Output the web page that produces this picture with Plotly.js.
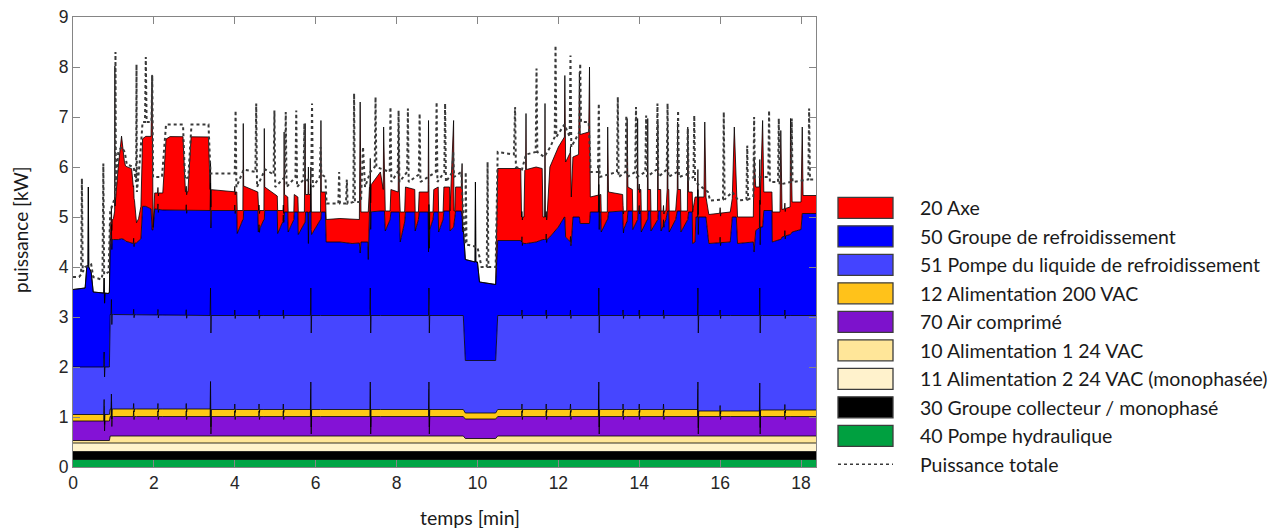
<!DOCTYPE html>
<html><head><meta charset="utf-8">
<script src="https://cdn.plot.ly/plotly-3.0.1.min.js"></script>
<style>html,body{margin:0;padding:0;background:#fff}#chart{width:1284px;height:528px}</style>
</head><body><div id="chart"></div>
<script>
// ---------------- DATA (kW, time in min) ----------------
// lower, nearly constant layers (each with its own time points)
const tHydraulique = [0, 18.37];
const pompeHydraulique = [0.15, 0.15];              // 40
const tCollecteur = [0, 18.37];
const groupeCollecteur = [0.16, 0.16];              // 30
const tAlim2 = [0, 18.37];
const alim2_24VAC = [0.17, 0.17];                   // 11
const tAlim1 = [0, 0.9, 0.92, 9.65, 9.7, 10.45, 10.5, 18.37];
const alim1_24VAC = [0.05, 0.05, 0.14, 0.14, 0.09, 0.09, 0.14, 0.14]; // 10
const tAir = [0, 0.76,0.77,0.78,0.79, 0.94,0.95,0.96,0.97, 1.49,1.5,1.51,1.52, 2.09,2.1,2.11,2.12,
  2.79,2.8,2.81,2.82, 3.39,3.4,3.41,3.42, 3.99,4.0,4.01,4.02, 4.59,4.6,4.61,4.62, 5.19,5.2,5.21,5.22,
  5.87,5.88,5.89,5.9, 7.34,7.35,7.36,7.37, 8.79,8.8,8.81,8.82, 11.09,11.1,11.11,11.12,
  11.69,11.7,11.71,11.72, 12.29,12.3,12.31,12.32, 12.99,13.0,13.01,13.02, 13.59,13.6,13.61,13.62,
  13.99,14.0,14.01,14.02, 14.59,14.6,14.61,14.62, 15.44,15.45,15.46,15.47, 15.99,16.0,16.01,16.02,
  16.97,16.98,16.99,17.0, 17.59,17.6,17.61,17.62, 18.37];
const airComprime = [0.39, 0.39,0.69,0.19,0.39, 0.39,0.69,0.19,0.39, 0.39,0.5,0.33,0.39, 0.39,0.5,0.33,0.39,
  0.39,0.5,0.33,0.39, 0.39,0.94,0.04,0.39, 0.39,0.5,0.33,0.39, 0.39,0.5,0.33,0.39, 0.39,0.5,0.33,0.39,
  0.39,0.94,0.04,0.39, 0.39,0.94,0.04,0.39, 0.39,0.94,0.04,0.39, 0.39,0.5,0.33,0.39,
  0.39,0.5,0.33,0.39, 0.39,0.5,0.33,0.39, 0.39,0.94,0.04,0.39, 0.39,0.5,0.33,0.39,
  0.39,0.5,0.33,0.39, 0.39,0.5,0.33,0.39, 0.39,0.94,0.04,0.39, 0.39,0.5,0.33,0.39,
  0.39,0.94,0.04,0.39, 0.39,0.5,0.33,0.39, 0.39];   // 70
const tAlim200 = [0, 0.9, 0.92, 3.4, 3.42, 9.65, 9.7, 10.45, 10.5, 15.45, 15.47, 16.97, 16.99, 18.37];
const alim200VAC = [0.13, 0.13, 0.15, 0.15, 0.14, 0.14, 0.12, 0.12, 0.14, 0.14, 0.11, 0.11, 0.13, 0.13]; // 12
const pompeLiquide = [0.95, 0.95, 1.89, 1.87, 1.88, 1.88, 1.05, 1.05, 1.88, 1.88, 1.91, 1.91, 1.89, 1.89]; // 51

// upper, strongly varying layers
const tTop = [
  0,0.3,0.34,0.37,0.38,0.39,0.45,0.5,0.88,0.9,
  0.92,1.0,1.03,1.035,1.04,1.12,1.2,1.27,1.3,1.45,1.5,1.57,1.62,1.68,1.72,1.8,1.93,1.955,1.98,2.02,2.22,2.3,2.4,2.72,2.78,2.84,2.92,3.35,3.38,
  4.05,4.06,4.2,4.21,4.22,
  4.57,4.58,4.72,4.73,4.74,
  5.05,5.06,5.21,5.22,5.23,
  5.31,5.32,5.46,5.47,
  5.56,5.57,5.72,5.74,5.75,
  5.81,5.82,5.83,
  5.89,5.9,6.12,6.13,6.14,
  6.24,6.26,6.6,6.9,7.08,7.1,7.12,
  7.29,7.3,7.33,
  7.6,7.67,7.68,7.7,
  7.72,7.84,7.86,
  8.04,8.05,8.07,
  8.09,8.2,8.22,
  8.45,8.46,8.54,8.56,
  8.78,8.79,8.8,8.9,8.92,
  9.03,9.04,9.15,9.17,
  9.31,9.32,9.41,9.42,9.44,9.46,
  9.6,9.62,9.64,
  9.7,9.94,9.95,9.96,10.0,10.05,10.45,
  10.5,11.07,11.09,11.15,11.17,11.19,11.2,11.21,11.45,11.6,11.62,11.66,11.67,11.68,11.72,11.79,12.0,12.15,12.16,12.18,12.3,12.32,12.36,12.5,12.52,12.54,12.75,12.77,12.79,13.05,
  13.06,13.21,13.22,13.24,
  13.59,13.6,13.69,13.7,13.72,
  13.83,13.84,13.95,13.96,13.97,
  14.04,14.05,14.2,14.21,14.22,
  14.28,14.29,14.45,14.46,14.47,
  14.53,14.54,14.66,14.69,14.7,14.71,
  14.73,14.74,14.9,14.94,14.95,14.96,
  15.02,15.03,15.19,15.2,15.22,
  15.31,15.32,15.38,15.4,15.6,15.62,15.65,
  15.72,16.25,16.3,16.35,16.4,16.43,16.82,16.84,16.88,17.0,17.05,17.08,
  17.28,17.29,17.48,17.5,17.53,17.73,17.74,17.78,18.0,18.03,18.05,18.37];
const groupeRefroid = [   // 50
  1.55,1.58,2.0,2.05,3.6,2.0,1.9,1.5,1.47,1.5,
  1.5,1.5,1.5,1.5,1.5,1.5,1.52,1.5,1.47,1.44,1.42,1.44,1.47,1.52,2.17,2.17,2.12,1.7,1.7,2.12,2.1,2.1,2.1,2.1,2.1,2.1,2.1,2.1,2.1,
  2.1,1.64,1.92,1.92,2.1,
  2.1,1.67,1.92,1.92,2.1,
  2.1,1.64,1.92,1.92,2.07,
  2.07,1.67,1.92,2.07,
  2.07,1.62,1.87,1.87,2.07,
  2.07,1.44,2.07,
  2.07,1.62,1.92,1.92,2.07,
  2.07,1.47,1.47,1.44,1.45,1.25,1.47,
  1.47,1.12,2.07,
  2.09,2.09,2.09,2.09,
  1.69,1.92,2.07,
  2.07,2.07,2.07,
  1.47,1.87,2.07,
  2.07,1.69,1.92,2.07,
  2.07,1.27,1.67,1.92,2.07,
  2.07,1.67,1.92,2.09,
  2.09,1.69,1.77,1.82,1.92,2.09,
  2.09,1.97,1.67,
  2.02,1.97,3.57,1.97,1.97,1.57,1.52,
  1.5,1.5,1.47,1.44,1.44,1.44,1.44,1.44,1.47,1.52,1.52,1.52,1.52,1.52,1.52,1.57,1.77,1.97,1.97,1.57,1.47,1.44,1.97,1.97,1.97,1.84,1.84,1.84,2.07,2.07,
  1.67,1.92,1.92,2.07,
  2.09,1.69,1.87,1.87,2.09,
  2.09,1.72,1.92,1.92,2.09,
  2.09,1.67,1.92,1.92,2.09,
  2.09,1.69,1.92,1.92,2.09,
  2.09,1.69,1.92,2.09,2.09,2.09,
  2.09,1.67,1.92,2.09,2.09,2.09,
  2.09,1.67,1.92,1.92,2.07,
  2.07,1.44,1.47,1.97,1.97,1.97,1.97,
  1.44,1.47,1.97,1.97,1.97,1.44,1.47,1.27,1.7,1.77,1.77,2.1,
  2.1,1.47,1.52,1.52,1.57,1.62,1.62,1.67,1.72,2.04,2.04,2.04];
const axe = [   // 20
  0,0,0,0,0,0,0,0,0,0,
  0.34,0.42,0.57,3.47,0.67,1.47,2.05,1.57,1.5,1.48,1.05,0.4,0.45,0.65,1.35,1.4,1.45,3.1,0.05,0.32,0.34,1.42,1.47,1.47,0.37,0.37,1.47,1.47,0.42,
  0.37,0.46,0.18,1.92,0.49,
  0.37,0.43,0.18,1.82,0.47,
  0.29,0.46,0.18,1.75,0.35,
  0.3,0.4,0.15,0.35,
  0.3,0.45,0.2,1.97,0.35,
  0.35,1.53,0.35,
  0.35,0.45,0.15,1.98,0.4,
  0.4,0.45,0.47,0.48,0.47,3.02,0.6,
  0.6,0.95,0.5,
  0.78,0.43,1.68,0.38,
  0.4,0.17,0.45,
  0.4,1.7,0.4,
  0.6,0.2,0.5,
  0.45,0.38,0.15,0.4,
  0.4,2.63,0.4,0.15,0.45,
  0.5,0.4,0.15,0.48,
  0.48,0.4,2.13,0.27,0.17,0.48,
  0.48,1.07,0.05,
  0,0,0,0,0,0,0,
  1.44,1.44,0.5,0.53,1.46,1.48,2.6,1.48,1.5,1.42,0.45,0.45,2.72,0.45,0.45,1.4,1.6,1.6,2.83,1.5,1.8,0.93,1.2,1.25,2.9,1.78,1.83,3.13,0.3,0.35,
  0.4,0.15,1.85,0.4,
  0.33,0.4,0.22,2.07,0.48,
  0.43,0.37,0.17,2.02,0.43,
  0.43,0.42,0.17,2.02,0.43,
  0.43,0.4,0.17,1.95,0.43,
  0.43,0.4,0.17,0.43,1.78,0.43,
  0.43,0.42,0.17,0.43,1.78,0.43,
  0.43,0.42,0.17,1.85,0.4,
  0.4,0.63,0.9,0.4,0.4,1.9,0.4,
  0.58,0.6,0.37,1.8,0.37,0.53,0.5,1.9,0.87,0.8,2.13,0.37,
  0.37,0.6,0.55,2.18,0.55,0.55,2.32,0.6,0.55,1.73,0.36,0.36];

// measured total power (absolute values)
const tTotal = [0,0.15,0.2,0.22,0.24,0.3,0.45,0.5,0.7,0.73,0.75,0.77,0.88,0.92,1.0,1.04,1.05,1.06,1.12,1.2,1.28,1.33,1.5,1.56,1.57,1.58,1.66,1.72,1.78,1.8,1.82,1.94,1.96,1.98,2.2,2.3,2.72,2.77,2.85,2.93,3.35,3.4,
  4.0,4.02,4.04,4.22,4.51,4.53,4.55,4.75,4.96,4.98,5.0,5.24,5.26,5.28,5.5,5.52,5.54,5.7,5.72,5.74,5.89,5.91,5.93,6.1,6.12,6.14,6.24,6.27,6.56,6.58,6.6,6.75,6.77,6.79,6.93,6.95,6.97,7.12,7.17,7.22,7.35,7.46,7.48,7.5,7.83,7.85,7.87,8.03,8.05,8.07,8.26,8.28,8.3,8.55,8.57,8.59,8.97,8.99,9.01,9.18,9.2,9.22,9.38,9.4,9.42,9.6,9.65,
  9.7,9.71,9.73,10.0,10.1,10.23,10.25,10.27,10.45,
  10.5,10.9,10.93,10.95,11.1,11.2,11.44,11.46,11.48,11.65,11.8,11.91,11.93,11.95,12.15,12.28,12.3,12.32,12.52,12.54,12.56,12.75,12.8,12.98,13.0,13.02,
  13.45,13.47,13.49,13.66,13.68,13.7,13.9,13.92,13.94,14.15,14.17,14.19,14.43,14.45,14.47,14.68,14.7,14.72,14.94,14.96,14.98,15.18,15.2,15.22,15.34,15.36,15.38,
  15.7,15.75,16.07,16.09,16.11,16.3,16.45,16.65,16.67,16.69,16.82,16.84,16.86,17.19,17.21,17.23,17.43,17.45,17.47,17.75,17.77,17.79,18.18,18.2,18.22,18.37];
const puissanceTotale = [3.8,3.8,3.85,5.77,3.9,4.0,4.05,3.8,3.75,3.85,6.07,3.85,3.9,5.1,5.3,5.4,8.3,5.6,6.3,6.4,6.3,6.05,6.0,5.7,8.05,5.5,6.2,6.9,6.9,8.2,6.9,6.9,7.83,5.8,5.8,6.85,6.85,5.75,5.8,6.85,6.85,5.87,
  5.87,7.13,5.6,5.95,5.9,7.27,5.6,5.95,5.85,7.13,5.6,5.8,7.1,5.6,5.8,7.13,5.6,5.75,6.87,5.7,5.8,7.27,5.6,5.8,6.4,5.85,5.8,5.27,5.27,5.9,5.27,5.27,5.75,5.27,5.3,7.47,5.3,5.3,6.4,5.6,5.9,6.0,7.4,6.0,5.9,7.2,5.7,5.9,7.13,5.7,5.9,7.17,5.7,5.85,7.07,5.7,5.9,7.3,5.7,5.9,7.27,5.7,5.9,6.3,5.8,5.9,5.0,
  4.45,5.9,4.45,4.4,4.0,4.0,6.1,4.0,4.0,
  6.3,6.25,7.2,6.0,5.95,6.25,6.3,7.97,6.3,6.2,6.4,6.6,8.43,6.6,6.85,6.6,8.23,6.4,6.7,8.07,6.9,6.9,5.9,5.9,7.27,5.8,
  5.9,7.4,5.8,5.9,7.03,5.8,5.9,7.2,5.8,5.9,7.03,5.8,5.95,7.27,5.8,5.95,7.27,5.8,5.9,7.13,5.8,5.85,6.77,5.75,5.8,7.03,5.7,
  5.5,5.33,5.35,7.1,5.35,5.5,5.33,5.35,6.43,5.35,5.4,7.0,5.8,5.8,7.13,5.7,5.7,6.97,5.65,5.7,6.97,5.7,5.75,7.17,5.75,5.75];

const xTicks = [0, 2, 4, 6, 8, 10, 12, 14, 16, 18];
const yTicks = [0, 1, 2, 3, 4, 5, 6, 7, 8, 9];

// ---------------- LAYOUT / STYLE ----------------
const L = 73, R = 816, T = 17, B = 467;
const px2x = px => (px - L) / (R - L);
const py2y = py => (B - py) / (B - T);

const layers = [   // bottom -> top
  {name:'40 Pompe hydraulique', x:tHydraulique, y:pompeHydraulique, fill:'#00A545', sw:'#00A040'},
  {name:'30 Groupe collecteur / monophasé', x:tCollecteur, y:groupeCollecteur, fill:'#000000', sw:'#000000'},
  {name:'11 Alimentation 2 24 VAC (monophasée)', x:tAlim2, y:alim2_24VAC, fill:'#FFF3CC', sw:'#FFF2CC'},
  {name:'10 Alimentation 1 24 VAC', x:tAlim1, y:alim1_24VAC, fill:'#FFE697', sw:'#FFE699'},
  {name:'70 Air comprimé', x:tAir, y:airComprime, fill:'#8412D6', sw:'#7D12CC'},
  {name:'12 Alimentation 200 VAC', x:tAlim200, y:alim200VAC, fill:'#FFC915', sw:'#FFC21A'},
  {name:'51 Pompe du liquide de refroidissement', x:tAlim200, y:pompeLiquide, fill:'#4646FF', sw:'#4444FF'},
  {name:'50 Groupe de refroidissement', x:tTop, y:groupeRefroid, fill:'#0000FF', sw:'#0000FF'},
  {name:'20 Axe', x:tTop, y:axe, fill:'#FF0000', sw:'#FF0000'}
];

// stacking: evaluate every layer (piecewise linear between its own points) on the union of all time points
const allT = Array.from(new Set(layers.flatMap(l => l.x))).sort((a, b) => a - b);
function valueAt(xs, ys, t) {
  if (t <= xs[0]) return ys[0];
  if (t >= xs[xs.length - 1]) return ys[ys.length - 1];
  let i = 1; while (xs[i] < t) i++;
  if (xs[i] === t) return ys[i];
  const f = (t - xs[i - 1]) / (xs[i] - xs[i - 1]);
  return ys[i - 1] + f * (ys[i] - ys[i - 1]);
}
let cum = allT.map(() => 0);
const traces = layers.map((l, i) => {
  cum = cum.map((c, j) => c + valueAt(l.x, l.y, allT[j]));
  return {type:'scatter', mode:'lines', name:l.name, x:allT, y:cum.slice(),
    fill: i === 0 ? 'tozeroy' : 'tonexty', fillcolor:l.fill,
    line:{color:'#000', width:0.8}, hoverinfo:'skip', showlegend:false};
});
traces.push({type:'scatter', mode:'lines', name:'Puissance totale', x:tTotal, y:puissanceTotale,
  line:{color:'#3a3a3a', width:2, dash:'dot'}, hoverinfo:'skip', showlegend:false});

// custom legend (big swatches)
const FONT = 'Lato, Open Sans, sans-serif';
const shapes = [], annotations = [];
const legendItems = layers.slice().reverse();
const rowY0 = 207.8, rowStep = 28.5;
legendItems.forEach((l, i) => {
  const yc = rowY0 + i * rowStep;
  shapes.push({type:'rect', xref:'paper', yref:'paper', x0:px2x(838), x1:px2x(893),
    y0:py2y(yc + 10.5), y1:py2y(yc - 10.5), fillcolor:l.sw, line:{color:'#3c3c3c', width:1.3}});
  annotations.push({xref:'paper', yref:'paper', x:px2x(918), y:py2y(yc), xanchor:'left', yanchor:'middle',
    text:l.name, showarrow:false, font:{family:FONT, size:19.5, color:'#1a1a1a'}});
});
{
  const yc = rowY0 + legendItems.length * rowStep;
  shapes.push({type:'line', xref:'paper', yref:'paper', x0:px2x(838), x1:px2x(893), y0:py2y(yc), y1:py2y(yc),
    line:{color:'#3a3a3a', width:1.5, dash:'dot'}});
  annotations.push({xref:'paper', yref:'paper', x:px2x(918), y:py2y(yc), xanchor:'left', yanchor:'middle',
    text:'Puissance totale', showarrow:false, font:{family:FONT, size:19.5, color:'#1a1a1a'}});
}
// axis titles
annotations.push({xref:'paper', yref:'paper', x:px2x(20), y:py2y(230), xanchor:'center', yanchor:'middle',
  textangle:-90, showarrow:false, text:'puissance [kW]', font:{family:FONT, size:19, color:'#1a1a1a'}});
annotations.push({xref:'paper', yref:'paper', x:px2x(470), y:py2y(517), xanchor:'center', yanchor:'middle',
  showarrow:false, text:'temps [min]', font:{family:FONT, size:19.5, color:'#1a1a1a'}});

const axisCommon = {ticks:'inside', ticklen:7, tickwidth:1, tickcolor:'#858585', showline:true, linecolor:'#858585',
  linewidth:1, mirror:'ticks', showgrid:false, zeroline:false,
  tickfont:{family:'Liberation Sans, Arial, sans-serif', size:17.5, color:'#262626'}};

const layout = {
  width:1284, height:528, margin:{l:L, r:1284 - R, t:T, b:528 - B},
  paper_bgcolor:'#fff', plot_bgcolor:'#fff', showlegend:false,
  xaxis:Object.assign({range:[0, 18.37], tickvals:xTicks, ticktext:xTicks.map(String)}, axisCommon),
  yaxis:Object.assign({range:[0, 9], tickvals:yTicks, ticktext:yTicks.map(String)}, axisCommon),
  shapes:shapes, annotations:annotations
};

Plotly.newPlot('chart', traces, layout, {staticPlot:true, displayModeBar:false});
</script></body></html>
